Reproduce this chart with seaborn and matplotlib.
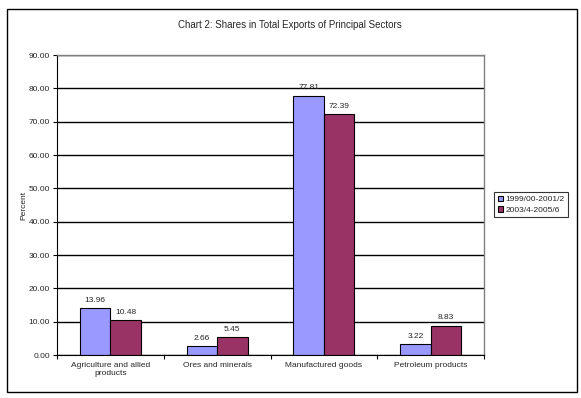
import pandas as pd
import seaborn as sns
import matplotlib.pyplot as plt
from matplotlib.patches import Rectangle

# Chart data
sectors = ["Agriculture and allied\nproducts", "Ores and minerals",
           "Manufactured goods", "Petroleum products"]
periods = ["1999/00-2001/2", "2003/4-2005/6"]
share_9900 = [13.96, 2.66, 77.81, 3.22]
share_0306 = [10.48, 5.45, 72.39, 8.83]
y_ticks = [0, 10, 20, 30, 40, 50, 60, 70, 80, 90]

df = pd.DataFrame({
    "sector": sectors * 2,
    "period": [periods[0]] * 4 + [periods[1]] * 4,
    "share": share_9900 + share_0306,
})

sns.set_style("white")
plt.rcParams['font.family'] = ['Liberation Sans', 'DejaVu Sans']

fig = plt.figure(figsize=(5.81, 3.98), dpi=100)
ax = fig.add_axes([57 / 581, 43 / 398, 427 / 581, 300 / 398])

sns.barplot(data=df, x="sector", y="share", hue="period",
            palette=["#9999FF", "#993366"], width=0.57,
            edgecolor="black", linewidth=0.8, saturation=1, ax=ax)

for c in ax.containers:
    ax.bar_label(c, fmt="%.2f", padding=3, fontsize=6)

# grid + axes
ax.set_ylim(0, 90)
ax.set_xlim(-0.5, 3.5)
ax.set_yticks(y_ticks)
ax.set_yticklabels([f"{v:.2f}" for v in y_ticks], fontsize=6)
ax.yaxis.grid(True, color="black", linewidth=1)
ax.set_axisbelow(True)
ax.tick_params(axis="y", direction="out", length=3, width=0.8, color="black", left=True, pad=2)
ax.set_xticks(range(4))
ax.set_xticklabels(sectors, fontsize=6)
ax.set_xticks([-0.5, 0.5, 1.5, 2.5, 3.5], minor=True)
ax.tick_params(axis="x", which="major", length=0, pad=5)
ax.tick_params(axis="x", which="minor", direction="out", length=3, width=0.8, color="black", bottom=True)
ax.set_xlabel("")
ax.set_ylabel("Percent", fontsize=6, labelpad=1)

for side in ["left", "bottom"]:
    ax.spines[side].set_color("black")
    ax.spines[side].set_linewidth(0.8)
for side in ["top", "right"]:
    ax.spines[side].set_visible(True)
    ax.spines[side].set_color("#808080")
    ax.spines[side].set_linewidth(1)

leg = ax.legend(loc="upper left", bbox_to_anchor=(490 / 581, 1 - 188 / 398),
                bbox_transform=fig.transFigure, fontsize=6, frameon=True,
                fancybox=False, edgecolor="black", handlelength=0.7, handleheight=0.7,
                handletextpad=0.3, borderpad=0.4, labelspacing=0.3)
leg.get_frame().set_linewidth(0.8)

fig.text(290 / 581, 1 - 25 / 398, "Chart 2: Shares in Total Exports of Principal Sectors",
         ha="center", va="center", fontsize=7)

# outer border
fig.patches.append(Rectangle((7 / 581, 6 / 398), 570 / 581, 383 / 398, transform=fig.transFigure,
                             fill=False, edgecolor="black", linewidth=1))

fig.savefig("out.png", dpi=100)
